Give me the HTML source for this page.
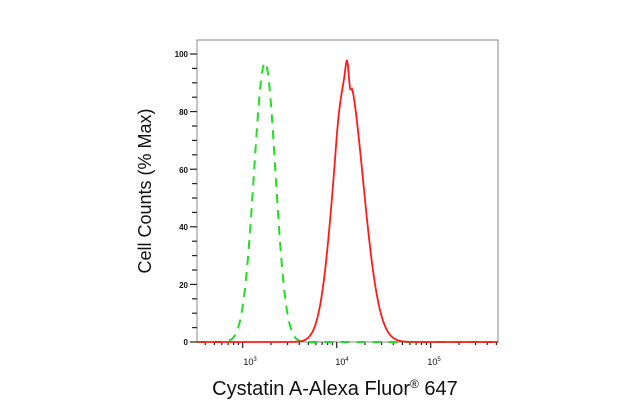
<!DOCTYPE html>
<html><head><meta charset="utf-8"><style>
body{margin:0;background:#fff;}
svg{display:block;font-family:"Liberation Sans",Arial,sans-serif;}
</style></head><body>
<svg id="s" width="640" height="410" viewBox="0 0 640 410" xmlns="http://www.w3.org/2000/svg">
<rect x="197" y="40" width="301" height="302" fill="#fff" stroke="#888" stroke-width="1"/>
<g id="ticks" stroke="#222" stroke-width="1.2"></g>
<g font-size="8" fill="#111" text-anchor="end" font-weight="bold">
<text x="188" y="345">0</text><text x="188" y="288">20</text><text x="188" y="230">40</text>
<text x="188" y="173">60</text><text x="188" y="115">80</text><text x="188" y="57">100</text>
</g>
<g font-size="9" fill="#111" text-anchor="middle">
<text x="250" y="365">10<tspan dy="-4" font-size="6">3</tspan></text>
<text x="342" y="365">10<tspan dy="-4" font-size="6">4</tspan></text>
<text x="434" y="365">10<tspan dy="-4" font-size="6">5</tspan></text>
</g>
<path id="g" fill="none" stroke="#22dd22" stroke-width="2" stroke-dasharray="9,7"/>
<path id="r" fill="none" stroke="#ff1a1a" stroke-width="1.8"/>
<text x="335" y="395" font-size="20" text-anchor="middle" fill="#111">Cystatin A-Alexa Fluor<tspan font-size="12" dy="-7">®</tspan><tspan dy="7"> 647</tspan></text>
<text transform="translate(151,191) rotate(-90)" font-size="18" text-anchor="middle" fill="#111">Cell Counts (% Max)</text>
</svg>
<script>
var T=document.getElementById('ticks'),h='';
for(var v=0;v<=100;v+=5){var y=342-v*2.88;h+='<line x1="'+(v%20?192:190)+'" x2="197" y1="'+y+'" y2="'+y+'"/>';}
for(var k=-1;k<3;k++){var base=242.7+k*94;for(var m=1;m<10;m++){var x=base+94*Math.log10(m);if(x<198||x>497)continue;h+='<line x1="'+x+'" x2="'+x+'" y1="342" y2="'+(m==1?348:345)+'"/>';}}
T.innerHTML=h;
function curve(c,s1,s2,pk,bump){var p='';for(var x=197;x<=498;x+=1){var s=x<c?s1:s2;var v=pk*Math.exp(-Math.pow((x-c)/s,2)/2);if(bump)v+=bump(x);if(v<0)v=0;var y=342-v*2.88;p+=(x==197?'M':'L')+x+','+y.toFixed(1);}return p;}
document.getElementById('g').setAttribute('d',curve(265,11,10.5,97));
document.getElementById('r').setAttribute('d',curve(347,13.5,16,93,function(x){return 5*Math.exp(-Math.pow((x-347)/2,2))-4*Math.exp(-Math.pow((x-350)/1.5,2))+2*Math.exp(-Math.pow((x-338)/3,2));}));
</script>
</body></html>
